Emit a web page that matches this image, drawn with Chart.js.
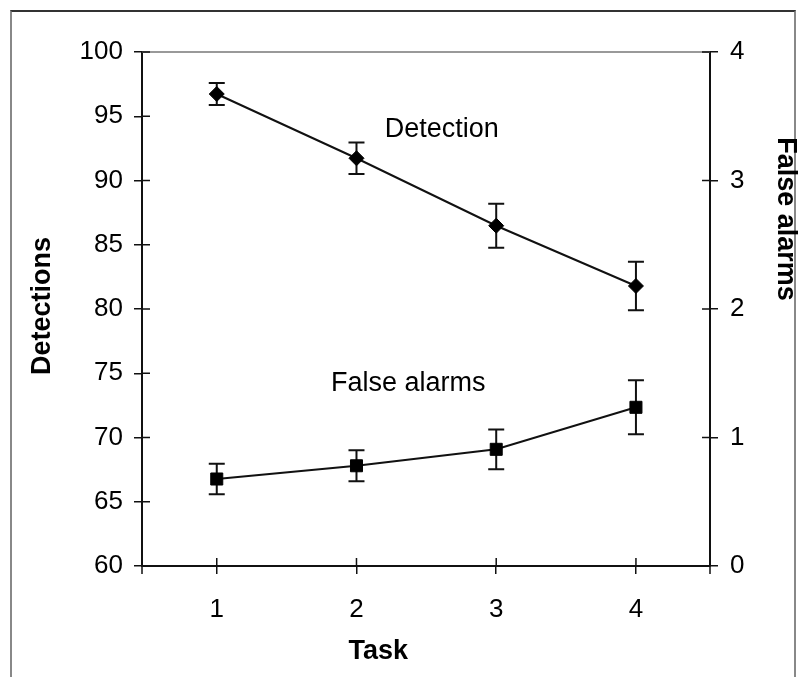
<!DOCTYPE html>
<html>
<head>
<meta charset="utf-8">
<script src="https://cdn.jsdelivr.net/npm/chart.js@4.4.0/dist/chart.umd.min.js"></script>
<style>
  html, body { margin: 0; padding: 0; background: #fff; overflow: hidden; }
  #frame { position: absolute; left: 10px; top: 10px; width: 782px; height: 700px;
           border-top: 2px solid #333; border-left: 2px solid #888; border-right: 2px solid #888; }
  #wrap { position: absolute; left: 0; top: 0; width: 804px; height: 677px; }
</style>
</head>
<body>
<div id="frame"></div>
<div id="wrap"><canvas id="chart" width="804" height="677"></canvas></div>
<script>
const tasks = [1, 2, 3, 4];
const detections = [96.73, 91.73, 86.48, 81.79];
const detectionErr = [0.85, 1.23, 1.72, 1.88];
const falseAlarms = [0.677, 0.78, 0.908, 1.235];
const falseAlarmErr = [0.118, 0.12, 0.155, 0.21];
const detectionTicks = [60, 65, 70, 75, 80, 85, 90, 95, 100];
const alarmTicks = [0, 1, 2, 3, 4];

const FONT = '"Liberation Sans", Arial, sans-serif';
const INK = '#111';

function points(ys) {
  return tasks.map((t, i) => ({ x: t, y: ys[i] }));
}

// error bars, inner tick halves, plot border and titles
const decor = {
  id: 'decor',
  beforeDatasetsDraw(chart) {
    const ctx = chart.ctx;
    ctx.save();
    ctx.strokeStyle = INK;
    ctx.lineWidth = 2;
    chart.data.datasets.forEach((ds, i) => {
      const meta = chart.getDatasetMeta(i);
      const ys = chart.scales[ds.yAxisID];
      ds.data.forEach((p, j) => {
        const x = meta.data[j].x;
        const top = ys.getPixelForValue(p.y + ds.errors[j]);
        const bot = ys.getPixelForValue(p.y - ds.errors[j]);
        ctx.beginPath();
        ctx.moveTo(x, top); ctx.lineTo(x, bot);
        ctx.moveTo(x - 8, top); ctx.lineTo(x + 8, top);
        ctx.moveTo(x - 8, bot); ctx.lineTo(x + 8, bot);
        ctx.stroke();
      });
    });
    ctx.restore();
  },
  afterDraw(chart) {
    const { ctx, chartArea: a, scales } = chart;
    ctx.save();
    // gray top edge of the plot area
    ctx.strokeStyle = '#999';
    ctx.lineWidth = 2;
    ctx.beginPath();
    ctx.moveTo(a.left, a.top); ctx.lineTo(a.right, a.top);
    ctx.stroke();

    // tick marks cross the axes, draw the inner halves
    ctx.strokeStyle = INK;
    ctx.lineWidth = 1.5;
    ctx.beginPath();
    scales.y.ticks.forEach(t => {
      const y = scales.y.getPixelForValue(t.value);
      ctx.moveTo(a.left, y); ctx.lineTo(a.left + 8, y);
    });
    scales.y1.ticks.forEach(t => {
      const y = scales.y1.getPixelForValue(t.value);
      ctx.moveTo(a.right, y); ctx.lineTo(a.right - 8, y);
    });
    scales.x.ticks.forEach(t => {
      const x = scales.x.getPixelForValue(t.value);
      ctx.moveTo(x, a.bottom); ctx.lineTo(x, a.bottom - 8);
    });
    ctx.moveTo(a.left, a.bottom); ctx.lineTo(a.left, a.bottom + 8);
    ctx.moveTo(a.right, a.bottom); ctx.lineTo(a.right, a.bottom + 8);
    ctx.stroke();

    ctx.fillStyle = '#000';
    ctx.textAlign = 'center';
    ctx.textBaseline = 'middle';

    // series labels
    ctx.font = '27px ' + FONT;
    ctx.fillText('Detection', scales.x.getPixelForValue(2.61), scales.y.getPixelForValue(93.93));
    ctx.fillText('False alarms', scales.x.getPixelForValue(2.37), scales.y.getPixelForValue(74.16));

    // axis titles
    ctx.font = 'bold 27px ' + FONT;
    ctx.fillText('Task', scales.x.getPixelForValue(2.156), 652);

    ctx.save();
    ctx.translate(43, (a.top + a.bottom) / 2 - 3);
    ctx.rotate(-Math.PI / 2);
    ctx.fillText('Detections', 0, 0);
    ctx.restore();

    ctx.save();
    ctx.translate(785, scales.y1.getPixelForValue(2.7));
    ctx.rotate(Math.PI / 2);
    ctx.fillText('False alarms', 0, 0);
    ctx.restore();

    ctx.restore();
  }
};

const tickFont = { family: FONT, size: 26 };

new Chart(document.getElementById('chart'), {
  type: 'line',
  data: {
    datasets: [
      {
        label: 'Detection',
        data: points(detections),
        errors: detectionErr,
        yAxisID: 'y',
        borderColor: INK,
        borderWidth: 2,
        pointStyle: 'rectRot',
        pointRadius: 7.5,
        pointBackgroundColor: '#000',
        pointBorderColor: '#000',
        pointBorderWidth: 1,
        tension: 0
      },
      {
        label: 'False alarms',
        data: points(falseAlarms),
        errors: falseAlarmErr,
        yAxisID: 'y1',
        borderColor: INK,
        borderWidth: 2,
        pointStyle: 'rect',
        pointRadius: 8.5,
        pointBackgroundColor: '#000',
        pointBorderColor: '#000',
        pointBorderWidth: 1,
        tension: 0
      }
    ]
  },
  options: {
    responsive: false,
    devicePixelRatio: 1,
    animation: false,
    layout: { padding: { top: 52, left: 0, right: 0, bottom: 0 } },
    plugins: {
      legend: { display: false },
      tooltip: { enabled: false }
    },
    scales: {
      x: {
        type: 'linear',
        position: 'bottom',
        min: 0.465,
        max: 4.53,
        afterBuildTicks: s => { s.ticks = tasks.map(v => ({ value: v })); },
        afterFit: s => { s.height = 111; },
        ticks: { font: tickFont, color: '#000', padding: 20 },
        grid: { drawOnChartArea: false, tickLength: 8, color: INK, lineWidth: 1.5 },
        border: { color: INK, width: 2 }
      },
      y: {
        type: 'linear',
        position: 'left',
        min: 60,
        max: 100,
        afterBuildTicks: s => { s.ticks = detectionTicks.map(v => ({ value: v })); },
        afterFit: s => { s.width = 142; },
        ticks: { font: tickFont, color: '#000', padding: 11 },
        grid: { drawOnChartArea: false, tickLength: 8, color: INK, lineWidth: 1.5 },
        border: { color: INK, width: 2 }
      },
      y1: {
        type: 'linear',
        position: 'right',
        min: 0,
        max: 4,
        afterBuildTicks: s => { s.ticks = alarmTicks.map(v => ({ value: v })); },
        afterFit: s => { s.width = 94; },
        ticks: { font: tickFont, color: '#000', padding: 12 },
        grid: { drawOnChartArea: false, tickLength: 8, color: INK, lineWidth: 1.5 },
        border: { color: INK, width: 2 }
      }
    }
  },
  plugins: [decor]
});
</script>
</body>
</html>
